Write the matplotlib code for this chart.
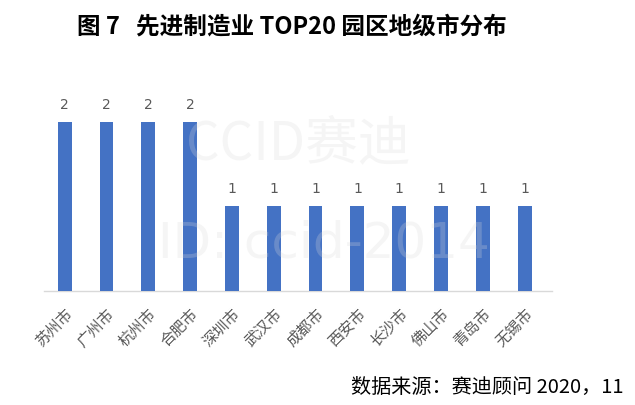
import matplotlib
matplotlib.use("Agg")
import matplotlib.pyplot as plt

plt.rcParams['font.family'] = ['Noto Sans CJK SC', 'DejaVu Sans']

cities = ["苏州市", "广州市", "杭州市", "合肥市", "深圳市", "武汉市",
          "成都市", "西安市", "长沙市", "佛山市", "青岛市", "无锡市"]
counts = [2, 2, 2, 2, 1, 1, 1, 1, 1, 1, 1, 1]
title = "图 7   先进制造业 TOP20 园区地级市分布"
source = "数据来源：赛迪顾问 2020，11"

fig = plt.figure(figsize=(6.35, 4.06), dpi=100)
ax = fig.add_axes([0.069, 0.281, 0.80, 0.50])

x = list(range(len(cities)))
ax.bar(x, counts, width=0.33, color="#4472C4", zorder=3)
for xi, v in zip(x, counts):
    ax.text(xi, v + 0.13, str(v), ha="center", va="bottom",
            fontsize=10, color="#595959", family=['DejaVu Sans'])

ax.set_xlim(-0.5, 11.65)
ax.set_ylim(0, 2.4)
ax.set_xticks(x)
ax.set_xticklabels(cities, rotation=45, ha="right", rotation_mode="anchor",
                   fontsize=11, color="#595959")
ax.tick_params(axis="x", length=0, pad=10)
ax.set_yticks([])
for s in ["top", "right", "left"]:
    ax.spines[s].set_visible(False)
ax.spines["bottom"].set_color("#D9D9D9")
ax.spines["bottom"].set_linewidth(1.0)

# faint watermark
fig.text(0.47, 0.645, "CCID赛迪", fontsize=38, color="#D8D8D8", alpha=0.25,
         ha="center", va="center", zorder=5)
fig.text(0.51, 0.40, "ID: ccid-2014", fontsize=36, color="#D8D8D8", alpha=0.25,
         ha="center", va="center", zorder=5, family=['DejaVu Sans'])

fig.text(0.46, 0.935, title, fontsize=17, fontweight="bold",
         ha="center", va="center", color="black")
fig.text(0.982, 0.045, source, fontsize=14.5, ha="right", va="center",
         color="black")

fig.savefig("out.png", dpi=100)
